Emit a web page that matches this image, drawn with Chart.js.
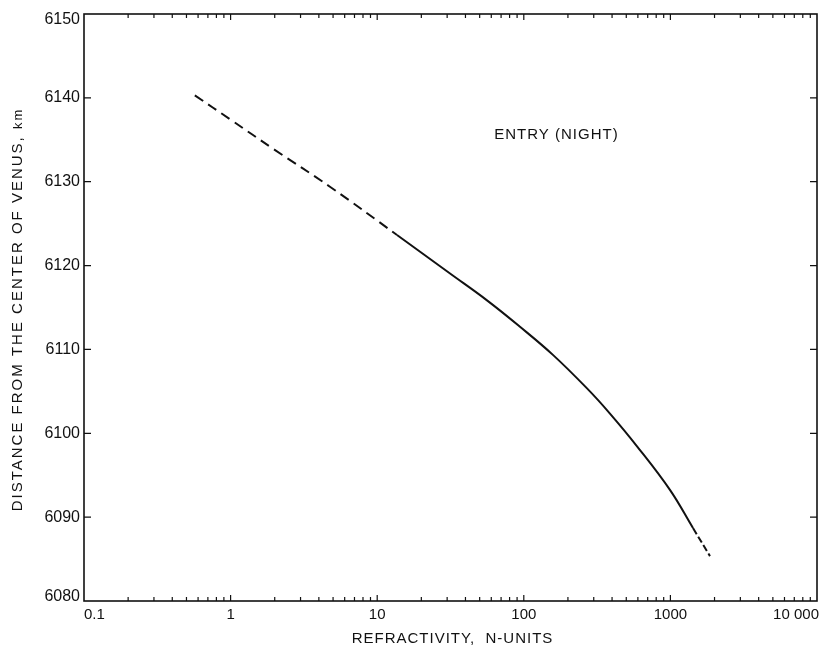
<!DOCTYPE html>
<html>
<head>
<meta charset="utf-8">
<title>Refractivity profile – Venus entry (night)</title>
<script src="https://cdn.jsdelivr.net/npm/chart.js@4/dist/chart.umd.min.js"></script>
<style>
  html, body { margin: 0; padding: 0; background: #fff; }
  #wrap { width: 821px; height: 653px; position: relative; }
</style>
</head>
<body>
<div id="wrap"><canvas id="c"></canvas></div>
<script>
// Refractivity (N-units) versus distance from the centre of Venus (km)
const refractivity = [0.57, 1.0, 2.0, 4.76, 13.65, 31.4, 56.1, 94.2, 158, 270, 387, 592, 993, 1426, 1862];
const distanceKm   = [6140.3, 6137.4, 6133.8, 6129.4, 6123.65, 6119.05, 6115.85, 6112.7, 6109.35, 6105.35, 6102.35, 6098.45, 6093.25, 6088.7, 6085.35];

// Where the measured (solid) part of the profile begins and ends
const solidFrom = 13.65;
const solidTo = 1426;

// Axis ticks and labels
const xTickValues = [0.1, 1, 10, 100, 1000, 10000];
const xTickLabels = ['0.1', '1', '10', '100', '1000', '10 000'];
const yTickValues = [6080, 6090, 6100, 6110, 6120, 6130, 6140, 6150];

const xTitle = 'REFRACTIVITY,  N-UNITS';
const yTitleMain = 'DISTANCE FROM THE CENTER OF VENUS,';
const yTitleUnit = 'km';
const annotation = { text: 'ENTRY (NIGHT)', x: 167, y: 6135.6 };

const INK = '#111';
const FONT = '"Liberation Sans", Arial, sans-serif';

const points = refractivity.map((v, i) => ({ x: v, y: distanceKm[i] }));

// Frame, inward ticks, labels and titles drawn from the chart's scales
const framePlugin = {
  id: 'frame',
  afterDraw(chart) {
    const ctx = chart.ctx;
    const a = chart.chartArea;
    const xs = chart.scales.x;
    const ys = chart.scales.y;
    ctx.save();
    ctx.strokeStyle = INK;
    ctx.fillStyle = INK;

    // box
    ctx.lineWidth = 1.6;
    ctx.strokeRect(a.left, a.top, a.right - a.left, a.bottom - a.top);

    // log ticks on bottom and top
    ctx.lineWidth = 1.2;
    for (let d = -1; d <= 3; d++) {
      for (let m = 1; m <= 9; m++) {
        if (m === 1 && d === -1) continue;
        const v = m * Math.pow(10, d);
        const px = xs.getPixelForValue(v);
        const len = m === 1 ? 6 : 4;
        ctx.beginPath();
        ctx.moveTo(px, a.bottom); ctx.lineTo(px, a.bottom - len);
        ctx.moveTo(px, a.top); ctx.lineTo(px, a.top + len);
        ctx.stroke();
      }
    }
    // y ticks on left and right
    yTickValues.forEach(v => {
      if (v === 6080 || v === 6150) return;
      const py = ys.getPixelForValue(v);
      ctx.beginPath();
      ctx.moveTo(a.left, py); ctx.lineTo(a.left + 7, py);
      ctx.moveTo(a.right, py); ctx.lineTo(a.right - 7, py);
      ctx.stroke();
    });

    // y tick labels
    ctx.font = '16px ' + FONT;
    ctx.textAlign = 'right';
    ctx.textBaseline = 'middle';
    yTickValues.forEach(v => {
      let py = ys.getPixelForValue(v);
      if (py < a.top + 6) py = a.top + 6;
      if (py > a.bottom - 4) py = a.bottom - 4;
      ctx.fillText(String(v), a.left - 4, py);
    });

    // x tick labels
    ctx.font = '15px ' + FONT;
    xTickValues.forEach((v, i) => {
      const px = xs.getPixelForValue(v);
      if (i === 0) { ctx.textAlign = 'left'; ctx.fillText(xTickLabels[i], px, a.bottom + 14); }
      else if (i === xTickValues.length - 1) { ctx.textAlign = 'right'; ctx.fillText(xTickLabels[i], px + 2, a.bottom + 14); }
      else { ctx.textAlign = 'center'; ctx.fillText(xTickLabels[i], px, a.bottom + 14); }
    });

    // x title
    ctx.letterSpacing = '1px';
    ctx.textAlign = 'center';
    ctx.fillText(xTitle, (a.left + a.right) / 2 + 2, a.bottom + 38);

    // y title (rotated)
    ctx.save();
    ctx.translate(18, (a.top + a.bottom) / 2 + 2);
    ctx.rotate(-Math.PI / 2);
    ctx.letterSpacing = '2px';
    ctx.font = '15px ' + FONT;
    const wMain = ctx.measureText(yTitleMain + ' ').width;
    ctx.font = '13px ' + FONT;
    const wUnit = ctx.measureText(yTitleUnit).width;
    const start = -(wMain + wUnit) / 2;
    ctx.textAlign = 'left';
    ctx.font = '15px ' + FONT;
    ctx.fillText(yTitleMain + ' ', start, 0);
    ctx.font = '13px ' + FONT;
    ctx.fillText(yTitleUnit, start + wMain, 0);
    ctx.restore();

    // annotation
    ctx.font = '15px ' + FONT;
    ctx.letterSpacing = '1px';
    ctx.textAlign = 'center';
    ctx.fillText(annotation.text, xs.getPixelForValue(annotation.x), ys.getPixelForValue(annotation.y));
    ctx.restore();
  }
};

new Chart(document.getElementById('c'), {
  type: 'line',
  data: {
    datasets: [{
      data: points,
      borderColor: INK,
      borderWidth: 2,
      pointRadius: 0,
      fill: false,
      tension: 0.4,
      segment: {
        borderDash: ctx => {
          const x0 = ctx.p0.parsed.x;
          if (x0 < solidFrom) return [10, 6];
          if (x0 >= solidTo) return [7, 3];
          return [];
        }
      }
    }]
  },
  options: {
    responsive: true,
    maintainAspectRatio: false,
    animation: false,
    layout: { padding: { left: 84, right: 4, top: 14, bottom: 52 } },
    plugins: { legend: { display: false }, tooltip: { enabled: false } },
    scales: {
      x: { type: 'logarithmic', min: 0.1, max: 10000, display: false },
      y: { type: 'linear', min: 6080, max: 6150, display: false }
    }
  },
  plugins: [framePlugin]
});
</script>
</body>
</html>
